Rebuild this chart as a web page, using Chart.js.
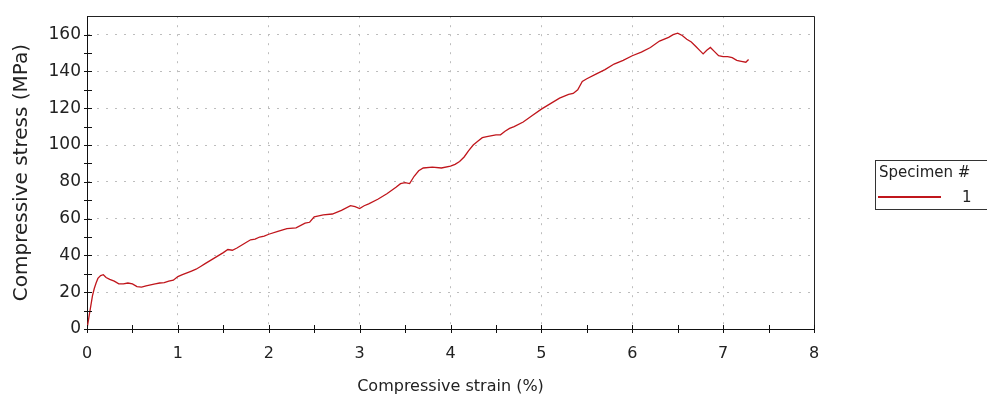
<!DOCTYPE html>
<html>
<head>
<meta charset="utf-8">
<script src="https://cdn.jsdelivr.net/npm/chart.js@4/dist/chart.umd.min.js"></script>
<style>
  body { margin: 0; background: #fff; }
  #wrap { position: relative; width: 987px; height: 396px; }
  #legend {
    position: absolute; left: 875px; top: 160px; width: 120px; height: 50px;
    border: 1px solid #333; border-right: none; box-sizing: border-box;
    font-family: "DejaVu Sans", sans-serif; font-size: 15px; color: #222;
  }
  #legend .title { position: absolute; left: 3px; top: 2px; }
  #legend .swatch { position: absolute; left: 2px; top: 35px; width: 63px; height: 0; border-top: 2px solid #c0161c; }
  #legend .label { position: absolute; left: 86px; top: 27px; }
</style>
</head>
<body>
<div id="wrap">
  <canvas id="chart" width="987" height="396"></canvas>
  <div id="legend">
    <span class="title">Specimen #</span>
    <span class="swatch"></span>
    <span class="label">1</span>
  </div>
</div>
<script>
// Data (specimen 1)
const strain = [0, 0.02, 0.04, 0.06, 0.08, 0.1, 0.12, 0.15, 0.18, 0.21, 0.25, 0.3, 0.35, 0.4, 0.45, 0.5,
  0.55, 0.6, 0.65, 0.7, 0.75, 0.8, 0.85, 0.9, 0.95, 1.0, 1.05, 1.1, 1.15, 1.2, 1.25, 1.3, 1.35, 1.4,
  1.45, 1.5, 1.55, 1.6, 1.65, 1.7, 1.75, 1.8, 1.85, 1.9, 1.95, 2.0, 2.1, 2.2, 2.3, 2.4, 2.45, 2.5,
  2.55, 2.6, 2.7, 2.8, 2.9, 2.95, 3.0, 3.05, 3.1, 3.2, 3.3, 3.4, 3.45, 3.5, 3.55, 3.6, 3.65, 3.7,
  3.8, 3.9, 4.0, 4.05, 4.1, 4.15, 4.2, 4.25, 4.3, 4.35, 4.4, 4.5, 4.55, 4.6, 4.65, 4.7, 4.8, 4.9,
  5.0, 5.1, 5.2, 5.3, 5.35, 5.4, 5.45, 5.5, 5.6, 5.7, 5.8, 5.9, 6.0, 6.1, 6.2, 6.3, 6.4, 6.45, 6.5,
  6.55, 6.6, 6.65, 6.7, 6.75, 6.78, 6.82, 6.86, 6.9, 6.95, 7.0, 7.05, 7.1, 7.15, 7.2, 7.25, 7.28];
const stress = [0, 6, 12, 18, 22, 25, 27.5, 29, 29.5, 28, 27, 26, 24.5, 24.5, 25, 24.5,
  23, 22.8, 23.5, 24, 24.5, 25, 25.2, 26, 26.5, 28.5, 29.5, 30.5, 31.5, 32.5, 34, 35.5, 37, 38.5,
  40, 41.5, 43.2, 42.8, 44, 45.5, 47, 48.5, 48.8, 50, 50.5, 51.5, 53, 54.5, 55, 57.5, 58, 61,
  61.5, 62, 62.5, 64.5, 67, 66.5, 65.5, 67, 68, 70.5, 73.5, 77, 79, 79.5, 79, 83, 86, 87.5,
  88, 87.5, 88.5, 89.5, 91, 93.5, 97, 100, 102, 104, 104.5, 105.5, 105.5, 107.5, 109, 110, 112.5, 116,
  119.5, 122.5, 125.5, 127.5, 128, 130, 134.5, 136, 138.5, 141, 144, 146, 148.5, 150.5, 153, 156.5, 158.5, 160, 160.8,
  159.5, 157.5, 156, 153.5, 151, 149.5, 151.5, 153, 151, 148.5, 148, 148, 147.5, 146, 145.5, 145, 146.5];

const xTicks = [0, 1, 2, 3, 4, 5, 6, 7, 8];
const yTicks = [0, 20, 40, 60, 80, 100, 120, 140, 160];
const xMinorStep = 0.5;
const yMinorStep = 10;

const points = strain.map((x, i) => ({ x: x, y: stress[i] }));

// Frame on top/right plus ticks that cross the axis lines
const framePlugin = {
    id: 'frame',
    afterDraw(chart) {
        const ctx = chart.ctx;
        const a = chart.chartArea;
        const xs = chart.scales.x;
        const ys = chart.scales.y;
        ctx.save();
        ctx.strokeStyle = '#222';
        ctx.lineWidth = 1;
        ctx.beginPath();
        ctx.moveTo(Math.round(a.left) + 0.5, Math.round(a.top) + 0.5);
        ctx.lineTo(Math.round(a.right) + 0.5, Math.round(a.top) + 0.5);
        ctx.lineTo(Math.round(a.right) + 0.5, Math.round(a.bottom) + 0.5);
        ctx.stroke();

        ctx.strokeStyle = '#111';
        ctx.beginPath();
        for (let v = xs.min; v <= xs.max + 1e-9; v += xMinorStep) {
            const px = Math.round(xs.getPixelForValue(v)) + 0.5;
            ctx.moveTo(px, a.bottom - 4);
            ctx.lineTo(px, a.bottom + 4);
        }
        for (let v = ys.min; v <= 160 + 1e-9; v += yMinorStep) {
            const py = Math.round(ys.getPixelForValue(v)) + 0.5;
            ctx.moveTo(a.left - 3, py);
            ctx.lineTo(a.left + 5, py);
        }
        ctx.stroke();
        ctx.restore();
    }
};

new Chart(document.getElementById('chart'), {
    type: 'scatter',
    data: {
        datasets: [{
            label: '1',
            data: points,
            showLine: true,
            borderColor: '#c0161c',
            borderWidth: 1.3,
            pointRadius: 0,
            tension: 0
        }]
    },
    options: {
        responsive: false,
        devicePixelRatio: 1,
        animation: false,
        layout: { padding: { top: 14, right: 173, left: 0, bottom: 0 } },
        plugins: {
            legend: { display: false },
            tooltip: { enabled: false }
        },
        scales: {
            x: {
                type: 'linear',
                min: 0,
                max: 8,
                afterBuildTicks: s => { s.ticks = xTicks.map(v => ({ value: v })); },
                afterFit: s => { s.height = 67; },
                ticks: {
                    color: '#222',
                    padding: 15,
                    font: { family: 'DejaVu Sans', size: 16 }
                },
                grid: { color: '#bdbdbd', lineWidth: 1, drawTicks: false },
                border: { display: true, color: '#111', width: 1, dash: [2, 7] },
                title: {
                    display: true,
                    text: 'Compressive strain (%)',
                    color: '#222',
                    font: { family: 'DejaVu Sans', size: 16 },
                    padding: { top: 0, bottom: 0 }
                }
            },
            y: {
                type: 'linear',
                min: 0,
                max: 170,
                afterBuildTicks: s => { s.ticks = yTicks.map(v => ({ value: v })); },
                afterFit: s => { s.width = 87; },
                ticks: {
                    color: '#222',
                    padding: 6,
                    font: { family: 'DejaVu Sans', size: 17 }
                },
                grid: { color: '#bdbdbd', lineWidth: 1, drawTicks: false },
                border: { display: true, color: '#111', width: 1, dash: [2, 7] },
                title: {
                    display: true,
                    text: 'Compressive stress (MPa)',
                    color: '#222',
                    font: { family: 'DejaVu Sans', size: 20 },
                    padding: { top: 10, bottom: 0 }
                }
            }
        }
    },
    plugins: [framePlugin]
});
</script>
</body>
</html>
